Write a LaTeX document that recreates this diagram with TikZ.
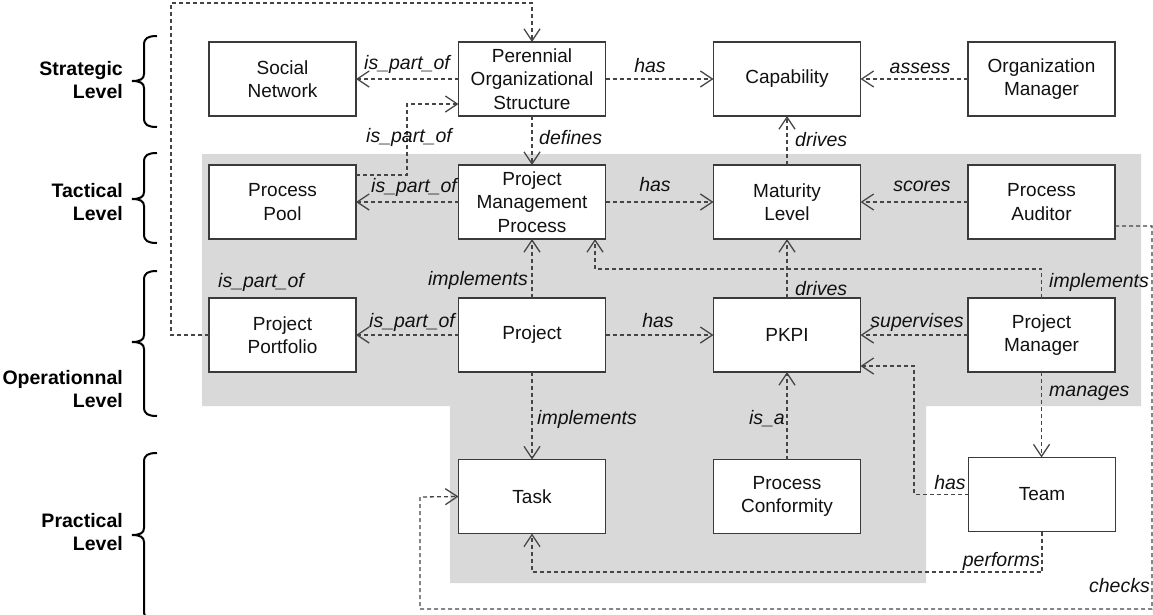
\documentclass[tikz,border=0pt]{standalone}
\usepackage{fontspec}
\setmainfont{Liberation Sans}
\usetikzlibrary{arrows.meta}
\definecolor{boxc}{HTML}{3A3A3A}
\definecolor{linec}{HTML}{454545}
\definecolor{txt}{HTML}{111111}
\definecolor{bgc}{HTML}{D9D9D9}
\newcommand\lvlbrace[3]{\draw[brc] (157,#1) .. controls (148,#1) and (144,{#1+2}) .. (144,{#1+9}) -- (144,{#2-7}) .. controls (144,{#2-2}) and (140,#2) .. (132,#2) .. controls (140,#2) and (144,{#2+2}) .. (144,{#2+7}) -- (144,{#3-9}) .. controls (144,{#3-2}) and (148,#3) .. (157,#3);}
\tikzset{
  box/.style={draw=boxc, line width=1.4pt, fill=white, minimum width=147pt, minimum height=74pt, inner sep=0pt, outer sep=0pt, align=center, text=txt, font=\fontsize{19}{23.5}\selectfont},
  conn/.style={draw=linec, line width=1.3pt, dash pattern=on 4pt off 3pt, -{Straight Barb[length=12pt,width=16pt]}},
  lbl/.style={font=\fontsize{19.5}{23.5}\selectfont\itshape, text=txt, inner sep=0pt},
  lvl/.style={font=\fontsize{19.5}{23.5}\selectfont\bfseries, align=right, text=black, inner sep=0pt},
  brc/.style={line width=2pt, black}
}
\begin{document}
\begin{tikzpicture}[x=1pt,y=-1pt]
\useasboundingbox (0,0) rectangle (1153,614);
% grey zone
\fill[bgc] (202,154) -- (1141,154) -- (1141,406) -- (926,406) -- (926,583) -- (450,583) -- (450,406) -- (202,406) -- cycle;

% level labels and braces (base = last line)
\node[lvl, anchor=base east] (lvS) at (123,98.5) {Strategic\\Level};
\node[lvl, anchor=base east] (lvT) at (123,220.5) {Tactical\\Level};
\node[lvl, anchor=base east] (lvO) at (123,407.5) {Operationnal\\Level};
\node[lvl, anchor=base east] (lvP) at (123,550.5) {Practical\\Level};
\lvlbrace{36}{81}{127}
\lvlbrace{153}{199}{243}
\lvlbrace{271}{342}{416}
\lvlbrace{453}{535}{620}

% boxes
\node[box] (sn) at (282.5,79) {Social\\Network};
\node[box] (pos) at (532,79) {Perennial\\Organizational\\Structure};
\node[box] (cap) at (787,79) {Capability};
\node[box] (om) at (1041.5,79) {Organization\\Manager};
\node[box] (pp) at (282.5,202) {Process\\Pool};
\node[box] (pmp) at (532,202) {Project\\Management\\Process};
\node[box] (ml) at (787,202) {Maturity\\Level};
\node[box] (pa) at (1041.5,202) {Process\\Auditor};
\node[box] (ppf) at (282.5,335) {Project\\Portfolio};
\node[box] (proj) at (532,335) {Project};
\node[box] (pkpi) at (787,335) {PKPI};
\node[box] (pm) at (1041.5,335) {Project\\Manager};
\node[box] (task) at (532,496.5) {Task};
\node[box] (pc) at (787,496.5) {Process\\Conformity};
\node[box] (team) at (1042,494.5) {Team};

% straight connectors
\draw[conn] (pos) -- (sn);
\draw[conn] (pos) -- (cap);
\draw[conn] (om) -- (cap);
\draw[conn] (pos) -- (pmp);
\draw[conn] (pmp) -- (pp);
\draw[conn] (pmp) -- (ml);
\draw[conn] (pa) -- (ml);
\draw[conn] (ml) -- (cap);
\draw[conn] (proj) -- (ppf);
\draw[conn] (proj) -- (pkpi);
\draw[conn] (pm) -- (pkpi);
\draw[conn] (pkpi) -- (ml);
\draw[conn] (proj) -- (pmp);
\draw[conn] (proj) -- (task);
\draw[conn] (pc) -- (pkpi);
\draw[conn] (pm.south) -- (pm.south |- team.north);

% bent connectors
\coordinate (ppA) at (407,104);
\draw[conn] ([yshift=27pt]pp.east) -| (ppA) -- (ppA -| pos.west);
\coordinate (loopA) at (171,3);
\draw[conn] (ppf.west) -| (loopA) -| (pos.north);
\coordinate (implA) at (595,269);
\draw[conn] (pm.north) |- (implA) -- (implA |- pmp.south);
\coordinate (hasA) at (914,366);
\draw[conn] (team.west) -| (hasA) -- (hasA -| pkpi.east);
\coordinate (perfA) at (532,572);
\draw[conn] (team.south) |- (perfA) -- (task.south);
\coordinate (chkA) at (1152,609);
\coordinate (chkB) at (420,497);
\draw[conn] ([yshift=-24pt]pa.east) -| (chkA) -| (chkB) -- (task.west);

% connector labels
\node[lbl, anchor=base] (l1) at (407,69) {is\_part\_of};
\node[lbl, anchor=base] (l2) at (650,72) {has};
\node[lbl, anchor=base] (l3) at (920,73) {assess};
\node[lbl, anchor=base] (l4) at (409,142) {is\_part\_of};
\node[lbl, anchor=base west] (l5) at (539,144) {defines};
\node[lbl, anchor=base west] (l6) at (795,146) {drives};
\node[lbl, anchor=base] (l7) at (414,192) {is\_part\_of};
\node[lbl, anchor=base] (l8) at (655,191) {has};
\node[lbl, anchor=base] (l9) at (922,191) {scores};
\node[lbl, anchor=base east] (l10) at (528,285) {implements};
\node[lbl, anchor=base west] (l11) at (1049,287) {implements};
\node[lbl, anchor=base west] (l12) at (795,295) {drives};
\node[lbl, anchor=base] (l13) at (261,287) {is\_part\_of};
\node[lbl, anchor=base] (l14) at (412,327) {is\_part\_of};
\node[lbl, anchor=base] (l15) at (658,327) {has};
\node[lbl, anchor=base] (l16) at (917,327) {supervises};
\node[lbl, anchor=base west] (l17) at (537,424) {implements};
\node[lbl, anchor=base east] (l18) at (785,424) {is\_a};
\node[lbl, anchor=base west] (l19) at (1049,396) {manages};
\node[lbl, anchor=base] (l20) at (950,489) {has};
\node[lbl, anchor=base east] (l21) at (1040,566) {performs};
\node[lbl, anchor=base east] (l22) at (1150,592) {checks};
\end{tikzpicture}
\end{document}
